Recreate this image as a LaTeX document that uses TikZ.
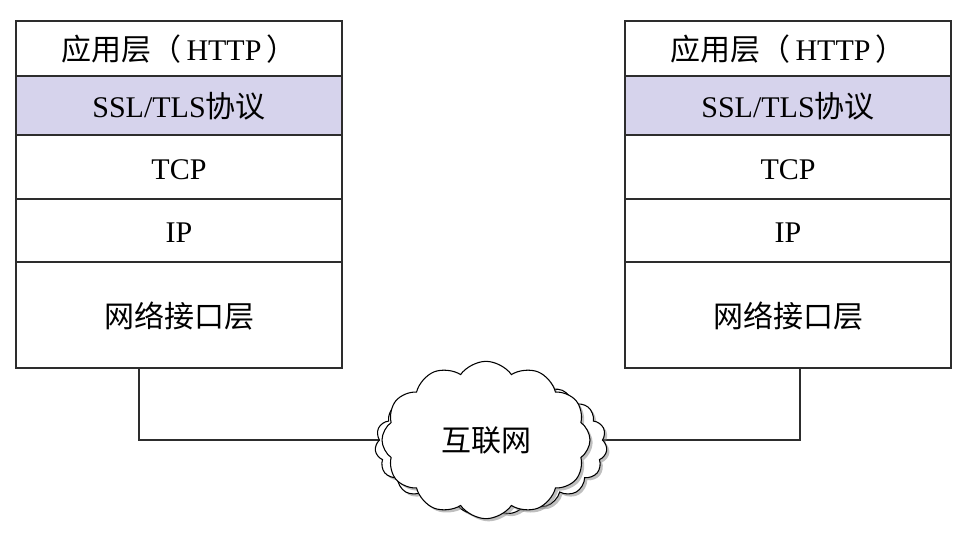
\documentclass[tikz,border=0pt]{standalone}
\usepackage{fontspec}
\setmainfont{Liberation Serif}
\newfontfamily\cjk{Noto Sans CJK SC}
\usetikzlibrary{positioning,shapes.symbols,shadows,backgrounds}
\definecolor{ssllilac}{RGB}{214,211,236}
\definecolor{edgegray}{RGB}{45,45,45}
\tikzset{
    layer/.style ={rectangle, draw=edgegray, line width=1.1pt, inner sep=0pt, outer sep=0pt,
                   minimum width=244.5pt, font=\fontsize{22.5}{26}\selectfont,
                   text height=22pt, text depth=4pt},
    apphead/.style ={layer, minimum height=41.25pt},
    sslband/.style ={layer, fill=ssllilac, minimum height=44.25pt},
    tcpband/.style ={layer, minimum height=48pt},
    ipband/.style ={layer, minimum height=47.25pt},
    netbase/.style ={layer, minimum height=79.5pt},
    netcloud/.style ={cloud, draw=black, line width=0.8pt, fill=white,
                      drop shadow={opacity=0.5, shadow xshift=2pt, shadow yshift=-2pt},
                      font=\fontsize{22.5}{26}\selectfont},
    wire/.style ={draw=edgegray, line width=1.1pt}
}

\begin{document}
\begin{tikzpicture}[x=0.75pt, y=-0.75pt]
    \useasboundingbox (0,0) rectangle (969,543);
    % left host
    \node[apphead, anchor=north west] (lapp) at (16,21) {{\cjk 应用层（}\,HTTP\,{\cjk ）}};
    \node[sslband] (lssl) [below =0pt of lapp] {SSL/TLS{\cjk 协议}};
    \node[tcpband] (ltcp) [below =0pt of lssl] {TCP};
    \node[ipband] (lip) [below =0pt of ltcp] {IP};
    \node[netbase] (lnet) [below =0pt of lip] {\cjk 网络接口层};
    % right host
    \node[apphead, anchor=north west] (rapp) at (625,21) {{\cjk 应用层（}\,HTTP\,{\cjk ）}};
    \node[sslband] (rssl) [below =0pt of rapp] {SSL/TLS{\cjk 协议}};
    \node[tcpband] (rtcp) [below =0pt of rssl] {TCP};
    \node[ipband] (rip) [below =0pt of rtcp] {IP};
    \node[netbase] (rnet) [below =0pt of rip] {\cjk 网络接口层};
    % internet
    \node[netcloud, cloud puffs=19, cloud puff arc=120, aspect=1.7, minimum width=174pt, minimum height=104pt] (inetback) at (491,445) {};
    \node[netcloud, cloud puffs=12, cloud puff arc=110, aspect=1.35, minimum width=156pt, minimum height=118pt] (inet) at (486,440) {\cjk 互联网};
    \coordinate (lport) at (139,368);
    \coordinate (rport) at (800,368);
    \begin{scope}[on background layer]
        \path[wire] (lport) |- (inet.center);
        \path[wire] (rport) |- (inet.center);
    \end{scope}
\end{tikzpicture}
\end{document}
